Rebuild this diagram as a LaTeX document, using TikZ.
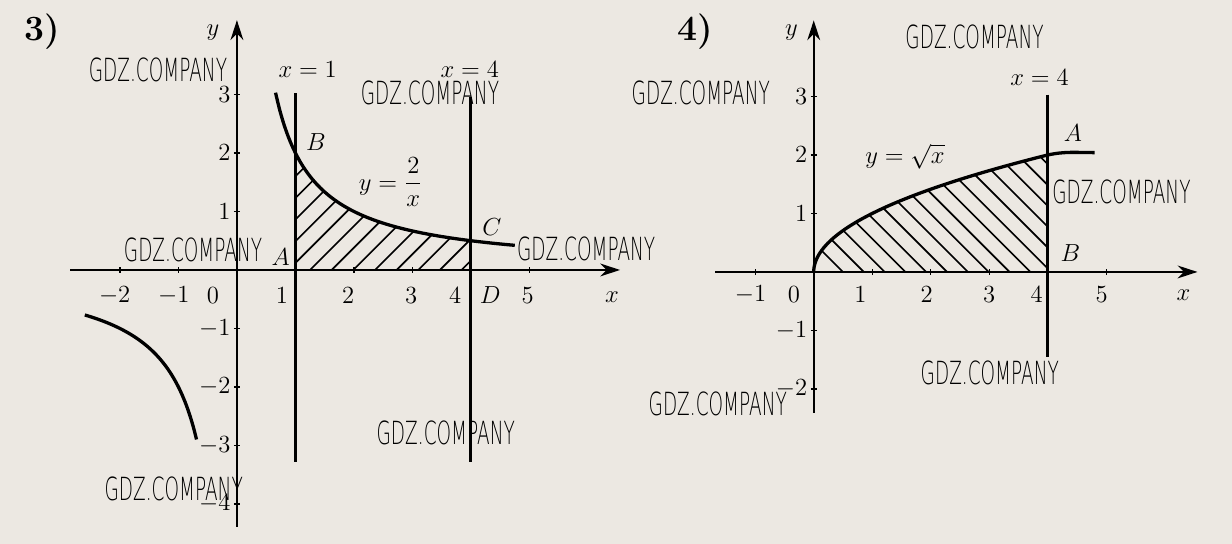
\documentclass[tikz,border=0pt]{standalone}
\usepackage{amsmath}
\usepackage{fontspec}
\newfontfamily\wmfont{DejaVuSans-ExtraLight.ttf}
\usetikzlibrary{arrows.meta}
\definecolor{paper}{RGB}{236,232,226}
\tikzset{
    axis/.style = {
        line width=0.9pt,
        -{Stealth[length=3.4mm,width=2.2mm]},
        },
    tickmark/.style = {
        line width=0.6pt,
        },
    graph/.style = {
        line width=1.6pt,
        },
    bound/.style = {
        line width=1.4pt,
        },
    hatch/.style = {
        line width=0.8pt,
        },
    tick label/.style = {
        font=\fontsize{13}{15}\selectfont,
        inner sep=1pt,
        },
    point/.style = {
        font=\fontsize{13}{15}\selectfont,
        },
    caption/.style = {
        font=\LARGE\bfseries,
        },
    watermark/.style = {
        font=\wmfont\fontsize{15.5}{16}\selectfont,
        xscale=0.58,
        inner sep=0pt,
        },
}

\begin{document}
\begin{tikzpicture}
    \fill[paper] (-4.05,-4.684) rectangle (17.01,4.615);
    \useasboundingbox (-4.05,-4.684) rectangle (17.01,4.615);

    % 3) y = 2/x
    \begin{scope}
        \begin{scope}
            \clip (1,0) -- (1,2) -- plot[domain=1:4,samples=40] (\x,{2/\x}) -- (4,0) -- cycle;
            \foreach \i in {-1.71,-1.34,...,4.2}
                \draw[hatch] (\i,0) -- ++(2.4,2.4);
        \end{scope}

        \draw[axis] (-2.85,0) -- (6.55,0);
        \draw[axis] (0,-4.39) -- (0,4.27);
        \foreach \t in {-2,-1,1,2,3,4,5}
            \draw[tickmark] (\t,-0.05) -- (\t,0.05);
        \foreach \t in {-4,-3,-2,-1,1,2,3}
            \draw[tickmark] (-0.05,\t) -- (0.05,\t);

        \draw[bound] (1,3.02) -- (1,-3.28);
        \draw[bound] (4,2.95) -- (4,-3.28);
        \draw[graph] plot[domain=0.66:4.75,samples=60,smooth] (\x,{2/\x});
        \draw[graph] plot[domain=-2.6:-0.69,samples=40,smooth] (\x,{2/\x});

        \foreach \t/\p [count=\k] in {-2/-2.09,-1/-1.08,0/-0.41,1/0.77,2/1.90,3/2.98,4/3.73,5/4.97}
            \node[tick label] (xa\k) at (\p,-0.43) {$\t$};
        \foreach \t [count=\k] in {-4,-3,-2,-1,1,2,3}
            \node[tick label, anchor=east] (ya\k) at (-0.07,\t) {$\t$};

        \node[caption] (n3) at (-3.33,4.07) {3)};
        \node[point] (ylab3) at (-0.41,4.05) {$y$};
        \node[point] (xlab3) at (6.41,-0.46) {$x$};
        \node[point] (line1) at (1.21,3.42) {$x=1$};
        \node[point] (line4) at (3.98,3.42) {$x=4$};
        \node[point] (B3) at (1.35,2.19) {$B$};
        \node[point] (A3) at (0.75,0.22) {$A$};
        \node[point] (C3) at (4.36,0.74) {$C$};
        \node[point] (D3) at (4.33,-0.43) {$D$};
        \node[point] (f3) at (2.63,1.50) {$y=\dfrac{2}{x}$};

        \node[watermark] (wm31) at (-1.35,3.42) {GDZ.COMPANY};
        \node[watermark] (wm32) at (3.30,3.03) {GDZ.COMPANY};
        \node[watermark] (wm33) at (-0.75,0.34) {GDZ.COMPANY};
        \node[watermark] (wm34) at (5.97,0.36) {GDZ.COMPANY};
        \node[watermark] (wm35) at (3.57,-2.79) {GDZ.COMPANY};
        \node[watermark] (wm36) at (-1.08,-3.74) {GDZ.COMPANY};
    \end{scope}

    % 4) y = sqrt(x)
    \begin{scope}[shift={(9.86,-0.034)}]
        \begin{scope}
            \clip (0,0) -- plot[domain=0:2,samples=50] ({\x*\x},\x) -- (4,0) -- cycle;
            \foreach \i in {0.5,0.856,...,6.6}
                \draw[hatch] (\i,0) -- ++(-2.4,2.4);
        \end{scope}

        \draw[axis] (-1.68,0) -- (6.56,0);
        \draw[axis] (0,-2.41) -- (0,4.3);
        \foreach \t in {-1,1,2,3,4,5}
            \draw[tickmark] (\t,-0.05) -- (\t,0.05);
        \foreach \t in {-2,-1,1,2,3}
            \draw[tickmark] (-0.05,\t) -- (0.05,\t);

        \draw[bound] (4,3.03) -- (4,-1.45);
        \draw[graph] plot[domain=0:2,samples=50,smooth] ({\x*\x},\x) to[out=12,in=180] (4.8,2.04);

        \foreach \t/\p [count=\k] in {-1/-1.08,0/-0.34,1/0.80,2/1.93,3/3.00,4/3.81,5/4.92}
            \node[tick label] (xb\k) at (\p,-0.38) {$\t$};
        \foreach \t [count=\k] in {-2,-1,1,2,3}
            \node[tick label, anchor=east] (yb\k) at (-0.07,\t) {$\t$};

        \node[caption] (n4) at (-2.02,4.10) {4)};
        \node[point] (ylab4) at (-0.38,4.10) {$y$};
        \node[point] (xlab4) at (6.32,-0.40) {$x$};
        \node[point] (line4b) at (3.86,3.33) {$x=4$};
        \node[point] (A4) at (4.43,2.38) {$A$};
        \node[point] (B4) at (4.39,0.32) {$B$};
        \node[point] (f4) at (1.56,1.97) {$y=\sqrt{x}$};

        \node[watermark] (wm41) at (2.75,4.02) {GDZ.COMPANY};
        \node[watermark] (wm42) at (-1.93,3.06) {GDZ.COMPANY};
        \node[watermark] (wm43) at (5.26,1.37) {GDZ.COMPANY};
        \node[watermark] (wm44) at (3.01,-1.73) {GDZ.COMPANY};
        \node[watermark] (wm45) at (-1.64,-2.26) {GDZ.COMPANY};
    \end{scope}
\end{tikzpicture}
\end{document}
